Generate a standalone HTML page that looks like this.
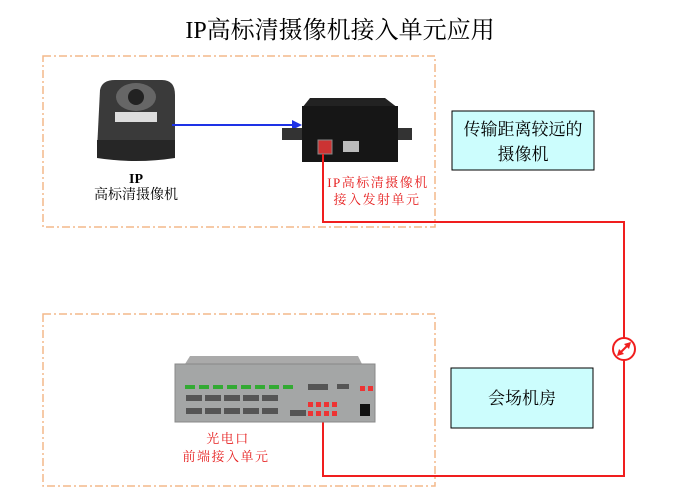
<!DOCTYPE html>
<html><head><meta charset="utf-8"><style>
html,body{margin:0;padding:0;background:#fff}
svg{display:block}
text{font-family:"Liberation Serif","Noto Serif CJK SC","Noto Sans CJK SC",serif}
</style></head><body>
<svg width="700" height="495" viewBox="0 0 700 495" xmlns="http://www.w3.org/2000/svg">
<text x="340" y="38" font-size="24" text-anchor="middle" fill="#000">IP高标清摄像机接入单元应用</text>
<rect x="43" y="56" width="392" height="171" fill="none" stroke="#f4b98a" stroke-width="1.5" stroke-dasharray="8,3,2,3"/>
<rect x="43" y="314" width="392" height="172" fill="none" stroke="#f4b98a" stroke-width="1.5" stroke-dasharray="8,3,2,3"/>
<!-- camera -->
<path d="M100,90 Q102,80 115,80 L162,80 Q175,80 175,95 L175,150 L97,150 Z" fill="#3a3a3a"/>
<ellipse cx="136" cy="97" rx="20" ry="14" fill="#666"/>
<circle cx="136" cy="97" r="8" fill="#222"/>
<rect x="115" y="112" width="42" height="10" fill="#ddd"/>
<path d="M97,140 L175,140 L175,158 Q136,164 97,158 Z" fill="#262626"/>
<text x="136" y="183" font-size="14" font-weight="bold" text-anchor="middle">IP</text>
<text x="136" y="199" font-size="14" text-anchor="middle">高标清摄像机</text>
<line x1="172" y1="125" x2="294" y2="125" stroke="#1e32e6" stroke-width="2"/>
<polygon points="302,125 292,120 292,130" fill="#1e32e6"/>
<!-- transmitter -->
<polygon points="310,98 385,98 398,108 302,108" fill="#222"/>
<rect x="282" y="128" width="130" height="12" fill="#333"/>
<rect x="302" y="106" width="96" height="56" fill="#161616"/>
<rect x="318" y="140" width="14" height="14" fill="#c33" stroke="#888"/>
<rect x="343" y="141" width="16" height="11" fill="#bbb"/>
<text x="378" y="187" font-size="13" fill="#e61e1e" text-anchor="middle" letter-spacing="1.5">IP高标清摄像机</text>
<text x="377" y="204" font-size="13" fill="#e61e1e" text-anchor="middle" letter-spacing="1.5">接入发射单元</text>
<!-- cyan boxes -->
<rect x="452" y="111" width="142" height="59" fill="#ccfdfd" stroke="#000" stroke-width="1"/>
<text x="523" y="135" font-size="17" text-anchor="middle" font-family="Liberation Sans,Noto Sans CJK SC,sans-serif">传输距离较远的</text>
<text x="523" y="160" font-size="17" text-anchor="middle" font-family="Liberation Sans,Noto Sans CJK SC,sans-serif">摄像机</text>
<rect x="451" y="368" width="142" height="60" fill="#ccfdfd" stroke="#000" stroke-width="1"/>
<text x="522" y="404" font-size="17" text-anchor="middle" font-family="Liberation Sans,Noto Sans CJK SC,sans-serif">会场机房</text>
<!-- red line -->
<polyline points="323,154 323,222 624,222 624,476 323,476 323,421" fill="none" stroke="#f01e1e" stroke-width="2"/>
<circle cx="624" cy="349" r="11" fill="#fff" stroke="#f01e1e" stroke-width="2"/>
<line x1="618" y1="355" x2="630" y2="343" stroke="#f01e1e" stroke-width="2"/>
<polygon points="631,342 624,344 629,349" fill="#f01e1e"/>
<polygon points="617,356 619,349 624,354" fill="#f01e1e"/>
<!-- rack unit -->
<polygon points="190,356 358,356 362,364 185,364" fill="#aaa"/>
<rect x="175" y="364" width="200" height="58" fill="#a4a6a6" stroke="#888"/>
<g fill="#3a3">
<rect x="185" y="385" width="10" height="4"/><rect x="199" y="385" width="10" height="4"/><rect x="213" y="385" width="10" height="4"/><rect x="227" y="385" width="10" height="4"/><rect x="241" y="385" width="10" height="4"/><rect x="255" y="385" width="10" height="4"/><rect x="269" y="385" width="10" height="4"/><rect x="283" y="385" width="10" height="4"/>
</g>
<g fill="#555">
<rect x="186" y="395" width="16" height="6"/><rect x="205" y="395" width="16" height="6"/><rect x="224" y="395" width="16" height="6"/><rect x="243" y="395" width="16" height="6"/><rect x="262" y="395" width="16" height="6"/>
<rect x="186" y="408" width="16" height="6"/><rect x="205" y="408" width="16" height="6"/><rect x="224" y="408" width="16" height="6"/><rect x="243" y="408" width="16" height="6"/><rect x="262" y="408" width="16" height="6"/><rect x="290" y="410" width="16" height="6"/>
<rect x="308" y="384" width="20" height="6"/><rect x="337" y="384" width="12" height="5"/>
<rect x="360" y="404" width="10" height="12" fill="#111"/>
</g>
<g fill="#e33">
<rect x="308" y="402" width="5" height="5"/><rect x="316" y="402" width="5" height="5"/><rect x="324" y="402" width="5" height="5"/><rect x="332" y="402" width="5" height="5"/>
<rect x="308" y="411" width="5" height="5"/><rect x="316" y="411" width="5" height="5"/><rect x="324" y="411" width="5" height="5"/><rect x="332" y="411" width="5" height="5"/>
<rect x="360" y="386" width="5" height="5"/><rect x="368" y="386" width="5" height="5"/>
</g>
<text x="228" y="443" font-size="13" fill="#e61e1e" text-anchor="middle" letter-spacing="1.5">光电口</text>
<text x="226" y="461" font-size="13" fill="#e61e1e" text-anchor="middle" letter-spacing="1.5">前端接入单元</text>
</svg>
</body></html>
